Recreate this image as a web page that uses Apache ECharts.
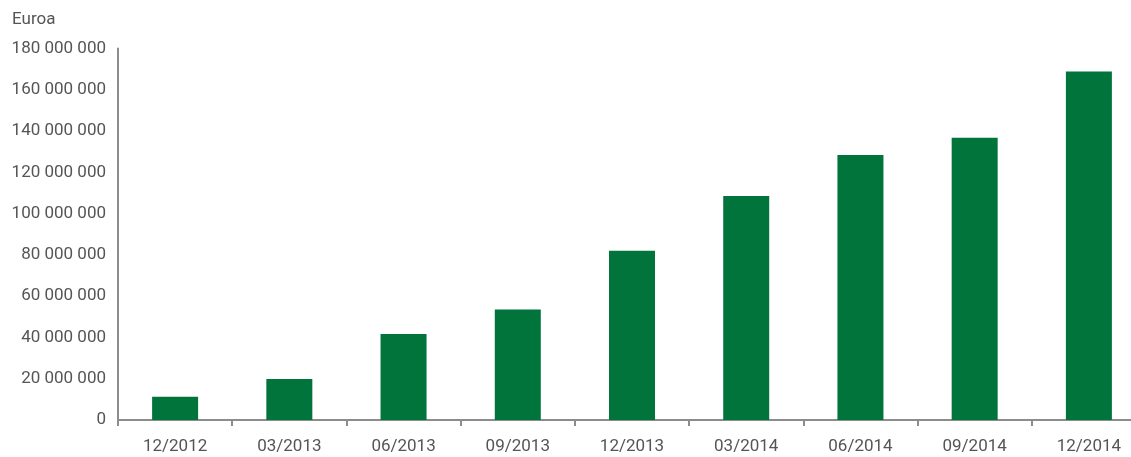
<!DOCTYPE html>
<html>
<head>
<meta charset="utf-8">
<title>Euroa</title>
<script src="https://cdn.jsdelivr.net/npm/echarts@6/dist/echarts.min.js"></script>
<style>
  html, body { margin: 0; padding: 0; background: #fff; overflow: hidden; }
  /* the x axis runs past the right edge of the picture, so the chart is wider than the window */
  #chart { width: 1160px; height: 457px; }
</style>
</head>
<body>
<div id="chart"></div>
<script>
// data
var categories = ['12/2012', '03/2013', '06/2013', '09/2013', '12/2013', '03/2014', '06/2014', '09/2014', '12/2014'];
var values = [11300000, 19900000, 41700000, 53600000, 82000000, 108500000, 128400000, 136800000, 168800000];
var yMin = 0, yMax = 180000000, yStep = 20000000;

function spaced(v) {
    return String(v).replace(/\B(?=(\d{3})+(?!\d))/g, ' ');
}

var chart = echarts.init(document.getElementById('chart'));
chart.setOption({
    animation: false,
    textStyle: { fontFamily: 'Roboto' },
    title: {
        text: 'Euroa',
        left: 7,
        top: 6,
        textStyle: { fontSize: 17, fontWeight: 'normal', color: '#555555', fontFamily: 'Roboto' }
    },
    grid: { left: 118, top: 48.5, width: 1028, height: 371.5, containLabel: false },
    xAxis: {
        type: 'category',
        data: categories,
        axisLine: { lineStyle: { color: '#8c8c8c', width: 2 } },
        axisTick: { show: true, length: 6, lineStyle: { color: '#8c8c8c', width: 2 } },
        axisLabel: { fontSize: 17, color: '#555555', margin: 18 },
        splitLine: { show: false }
    },
    yAxis: {
        type: 'value',
        min: yMin,
        max: yMax,
        interval: yStep,
        axisLine: { show: true, lineStyle: { color: '#8c8c8c', width: 2 } },
        axisTick: { show: false },
        splitLine: { show: false },
        axisLabel: { fontSize: 17, color: '#555555', margin: 12, padding: [8, 0, 0, 0], formatter: spaced }
    },
    series: [{
        type: 'bar',
        data: values,
        barWidth: 46,
        itemStyle: { color: '#00743a' }
    }]
});
</script>
</body>
</html>
